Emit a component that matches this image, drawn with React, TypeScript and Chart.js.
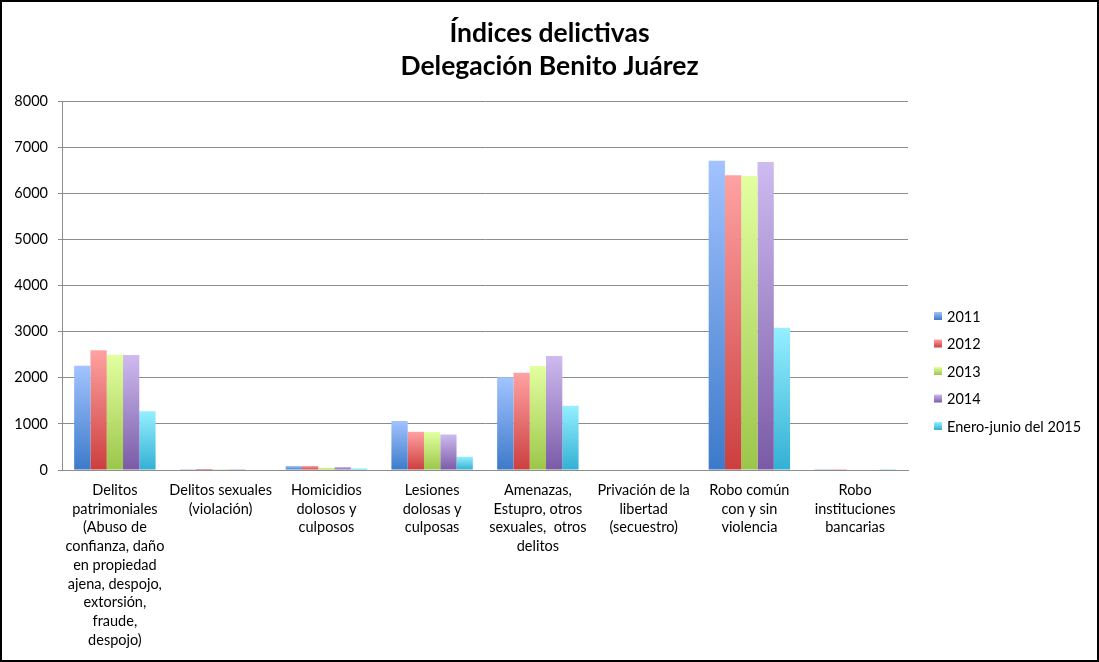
import React, { useEffect, useRef } from "react";
import { Chart, registerables } from "chart.js";

Chart.register(...registerables);

const TITLE_LINES = ["Índices delictivas", "Delegación Benito Juárez"];

const CATEGORIES: string[][] = [
  ["Delitos", "patrimoniales", "(Abuso de", "confianza, daño", "en propiedad", "ajena, despojo,", "extorsión,", "fraude,", "despojo)"],
  ["Delitos sexuales", "(violación)"],
  ["Homicidios", "dolosos y", "culposos"],
  ["Lesiones", "dolosas y", "culposas"],
  ["Amenazas,", "Estupro, otros", "sexuales,  otros", "delitos"],
  ["Privación de la", "libertad", "(secuestro)"],
  ["Robo común", "con y sin", "violencia"],
  ["Robo", "instituciones", "bancarias"],
];

const SERIES_LABELS = ["2011", "2012", "2013", "2014", "Enero-junio del 2015"];

const VALUES_2011 = [2260, 18, 85, 1063, 2010, 0, 6710, 16];
const VALUES_2012 = [2597, 20, 85, 830, 2110, 0, 6393, 14];
const VALUES_2013 = [2501, 15, 50, 824, 2256, 0, 6377, 12];
const VALUES_2014 = [2495, 17, 65, 772, 2473, 0, 6681, 13];
const VALUES_2015 = [1273, 10, 35, 289, 1395, 0, 3087, 8];

const Y_MIN = 0;
const Y_MAX = 8000;
const Y_STEP = 1000;

// light (top) / dark (bottom) gradient stops and legend swatch colours
const LIGHT = ["#a2c3ff", "#ffa2a2", "#e3ffa0", "#cebbf0", "#95efff"];
const DARK = ["#3c7aca", "#cc3e3e", "#9cc64a", "#7a5aa6", "#33b0d4"];
const SWATCH = ["#5a8fdc", "#e05656", "#b3dc68", "#9a7cc8", "#5ccbe6"];

const FONT = "Lato, 'Open Sans', sans-serif";

const customLegend = {
  id: "customLegend",
  afterDraw(chart: any) {
    const { ctx, chartArea } = chart;
    const x = chartArea.right + 26;
    const y0 = chartArea.bottom - 154;
    const gap = 27.5;
    ctx.save();
    ctx.font = `14.5px ${FONT}`;
    ctx.textBaseline = "middle";
    ctx.textAlign = "left";
    chart.data.datasets.forEach((ds: any, i: number) => {
      const y = y0 + i * gap;
      const g = ctx.createLinearGradient(0, y - 4, 0, y + 4);
      g.addColorStop(0, LIGHT[i]);
      g.addColorStop(1, DARK[i]);
      ctx.fillStyle = g;
      ctx.fillRect(x, y - 4, 8, 8);
      ctx.fillStyle = "#000";
      ctx.fillText(ds.label, x + 13, y + 1);
    });
    ctx.restore();
  },
};

function barGradient(i: number) {
  return (context: any) => {
    const chart = context.chart;
    const { ctx, chartArea, scales } = chart;
    if (!chartArea || !scales || !scales.y || context.type !== "data") return SWATCH[i];
    const v = context.parsed ? context.parsed.y : context.raw;
    const top = scales.y.getPixelForValue(v);
    const base = scales.y.getPixelForValue(0);
    if (!isFinite(top) || !isFinite(base) || Math.abs(base - top) < 1) return DARK[i];
    const g = ctx.createLinearGradient(0, top, 0, base);
    g.addColorStop(0, LIGHT[i]);
    g.addColorStop(1, DARK[i]);
    return g;
  };
}

export default function App() {
  const canvasRef = useRef<HTMLCanvasElement | null>(null);

  useEffect(() => {
    document.body.style.margin = "0";
    const canvas = canvasRef.current;
    if (!canvas) return;
    const allValues = [VALUES_2011, VALUES_2012, VALUES_2013, VALUES_2014, VALUES_2015];
    const chart = new Chart(canvas, {
      type: "bar",
      data: {
        labels: CATEGORIES,
        datasets: allValues.map((vals, i) => ({
          label: SERIES_LABELS[i],
          data: vals,
          backgroundColor: barGradient(i),
          borderWidth: 0,
          barPercentage: 1,
          categoryPercentage: 0.77,
          yAxisID: "y",
        })),
      },
      options: {
        animation: false,
        responsive: false,
        maintainAspectRatio: false,
        layout: { padding: 0 },
        plugins: {
          legend: { display: false },
          tooltip: { enabled: false },
          title: {
            display: true,
            text: TITLE_LINES,
            color: "#000",
            font: { family: FONT, size: 26.5, weight: "bold", lineHeight: 1.25 },
            padding: { top: 15, bottom: 18 },
          },
        },
        scales: {
          x: {
            grid: { display: false },
            border: { display: true, color: "#8c8c8c", width: 1 },
            ticks: {
              color: "#000",
              autoSkip: false,
              maxRotation: 0,
              minRotation: 0,
              padding: 3,
              font: { family: FONT, size: 14.5, lineHeight: 1.29 },
            },
            afterFit(scale: any) {
              scale.height = 190;
            },
          },
          y: {
            min: Y_MIN,
            max: Y_MAX,
            ticks: {
              stepSize: Y_STEP,
              color: "#000",
              padding: 10,
              font: { family: FONT, size: 14.5 },
              callback: (v: any) => String(v),
            },
            grid: { color: "#8c8c8c", lineWidth: 1, tickLength: 4 },
            border: { display: true, color: "#8c8c8c", width: 1 },
            afterFit(scale: any) {
              scale.width = 60;
            },
          },
          legendSpace: {
            type: "linear",
            position: "right",
            display: true,
            grid: { display: false, drawTicks: false },
            border: { display: false },
            ticks: { display: false },
            afterFit(scale: any) {
              scale.width = 189;
            },
          },
        },
      },
      plugins: [customLegend],
    });
    return () => chart.destroy();
  }, []);

  return (
    <div
      style={{
        width: 1099,
        height: 662,
        boxSizing: "border-box",
        border: "2px solid #000",
        background: "#fff",
        position: "relative",
      }}
    >
      <canvas ref={canvasRef} width={1095} height={658} style={{ display: "block" }} />
    </div>
  );
}
